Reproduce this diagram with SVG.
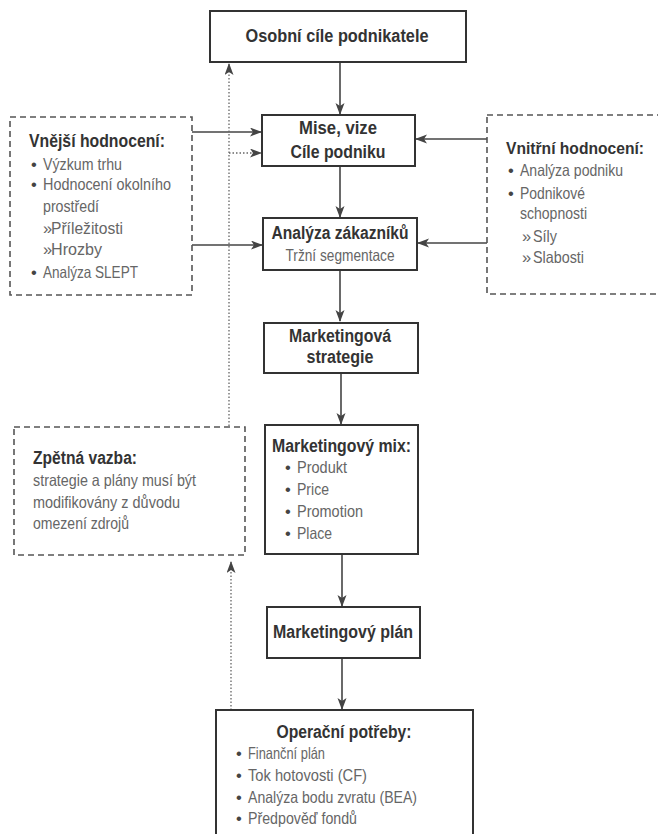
<svg xmlns="http://www.w3.org/2000/svg" width="658" height="834" viewBox="0 0 658 834">
<style>
.b{font-family:"Liberation Sans",Arial,sans-serif;font-weight:bold;font-size:18px;fill:#333}
.r{font-family:"Liberation Sans",Arial,sans-serif;font-size:16.5px;fill:#666}
.u{font-family:"Liberation Sans",Arial,sans-serif;font-size:16.5px;fill:#444}
.c{text-anchor:middle}
.box{fill:#fff;stroke:#333;stroke-width:2}
.dbox{fill:#fff;stroke:#555;stroke-width:1.6;stroke-dasharray:6 4}
.ln{fill:none;stroke:#444;stroke-width:1.6}
.dot{fill:none;stroke:#666;stroke-width:1.3;stroke-dasharray:1.5 2}
</style>
<defs>
<marker id="ah" markerWidth="12" markerHeight="10" refX="11" refY="4.5" orient="auto" markerUnits="userSpaceOnUse">
<path d="M0,0 L12,4.5 L0,9 L3,4.5 Z" fill="#444"/>
</marker>
</defs>
<g id="connectors">
<line class="ln" x1="340" y1="62" x2="340" y2="114" marker-end="url(#ah)"/>
<line class="ln" x1="340" y1="166" x2="340" y2="217" marker-end="url(#ah)"/>
<line class="ln" x1="340" y1="270" x2="340" y2="321" marker-end="url(#ah)"/>
<line class="ln" x1="341" y1="373" x2="341" y2="424" marker-end="url(#ah)"/>
<line class="ln" x1="342" y1="554" x2="342" y2="606" marker-end="url(#ah)"/>
<line class="ln" x1="342" y1="658" x2="342" y2="709" marker-end="url(#ah)"/>
<line class="ln" x1="192" y1="132" x2="261" y2="132" marker-end="url(#ah)"/>
<line class="ln" x1="192" y1="245" x2="262" y2="245" marker-end="url(#ah)"/>
<line class="ln" x1="487" y1="139" x2="416" y2="139" marker-end="url(#ah)"/>
<line class="ln" x1="487" y1="243" x2="418" y2="243" marker-end="url(#ah)"/>
<line class="dot" x1="229" y1="426" x2="229" y2="64" marker-end="url(#ah)"/>
<line class="dot" x1="229" y1="153" x2="261" y2="153" marker-end="url(#ah)"/>
<line class="dot" x1="231" y1="710" x2="231" y2="562" marker-end="url(#ah)"/>
</g>
<g id="osobni">
<rect class="box" x="210" y="11" width="256" height="51"/>
<text class="b c" x="337" y="42" textLength="183" lengthAdjust="spacingAndGlyphs">Osobní cíle podnikatele</text>
</g>
<g id="mise">
<rect class="box" x="262" y="115" width="153" height="51"/>
<text class="b c" x="338" y="134" textLength="78" lengthAdjust="spacingAndGlyphs">Mise, vize</text>
<text class="b c" x="338" y="158" textLength="95" lengthAdjust="spacingAndGlyphs">Cíle podniku</text>
</g>
<g id="analyza">
<rect class="box" x="263" y="218" width="154" height="52"/>
<text class="b c" x="340" y="239" textLength="137" lengthAdjust="spacingAndGlyphs">Analýza zákazníků</text>
<text class="r c" x="340" y="261" textLength="109" lengthAdjust="spacingAndGlyphs">Tržní segmentace</text>
</g>
<g id="strategie">
<rect class="box" x="264" y="323" width="154" height="50"/>
<text class="b c" x="340" y="342" textLength="102" lengthAdjust="spacingAndGlyphs">Marketingová</text>
<text class="b c" x="340" y="363" textLength="67" lengthAdjust="spacingAndGlyphs">strategie</text>
</g>
<g id="mix">
<rect class="box" x="265" y="425" width="153" height="129"/>
<text class="b" x="272" y="452" textLength="139" lengthAdjust="spacingAndGlyphs">Marketingový mix:</text>
<text class="u" x="285" y="473">•</text><text class="r" x="297" y="473" textLength="50" lengthAdjust="spacingAndGlyphs">Produkt</text>
<text class="u" x="285" y="495">•</text><text class="r" x="297" y="495" textLength="32" lengthAdjust="spacingAndGlyphs">Price</text>
<text class="u" x="285" y="517">•</text><text class="r" x="297" y="517" textLength="66" lengthAdjust="spacingAndGlyphs">Promotion</text>
<text class="u" x="285" y="539">•</text><text class="r" x="297" y="539" textLength="35" lengthAdjust="spacingAndGlyphs">Place</text>
</g>
<g id="plan">
<rect class="box" x="267" y="607" width="153" height="51"/>
<text class="b c" x="343" y="638" textLength="140" lengthAdjust="spacingAndGlyphs">Marketingový plán</text>
</g>
<g id="operacni">
<rect class="box" x="216" y="710" width="257" height="140"/>
<text class="b c" x="344" y="738" textLength="135" lengthAdjust="spacingAndGlyphs">Operační potřeby:</text>
<text class="u" x="236" y="759">•</text><text class="r" x="248" y="759" textLength="77" lengthAdjust="spacingAndGlyphs">Finanční plán</text>
<text class="u" x="236" y="781">•</text><text class="r" x="248" y="781" textLength="119" lengthAdjust="spacingAndGlyphs">Tok hotovosti (CF)</text>
<text class="u" x="236" y="803">•</text><text class="r" x="248" y="803" textLength="169" lengthAdjust="spacingAndGlyphs">Analýza bodu zvratu (BEA)</text>
<text class="u" x="236" y="824">•</text><text class="r" x="248" y="824" textLength="109" lengthAdjust="spacingAndGlyphs">Předpověď fondů</text>
</g>
<g id="vnejsi">
<rect class="dbox" x="10" y="117" width="182" height="178"/>
<text class="b" x="29" y="147" textLength="136" lengthAdjust="spacingAndGlyphs">Vnější hodnocení:</text>
<text class="u" x="31" y="170">•</text><text class="r" x="43" y="170" textLength="79" lengthAdjust="spacingAndGlyphs">Výzkum trhu</text>
<text class="u" x="31" y="190">•</text><text class="r" x="43" y="190" textLength="128" lengthAdjust="spacingAndGlyphs">Hodnocení okolního</text>
<text class="r" x="43" y="212" textLength="56" lengthAdjust="spacingAndGlyphs">prostředí</text>
<text class="r" x="43" y="234">»</text><text class="r" x="51" y="234" textLength="72" lengthAdjust="spacingAndGlyphs">Příležitosti</text>
<text class="r" x="43" y="255">»</text><text class="r" x="51" y="255" textLength="51" lengthAdjust="spacingAndGlyphs">Hrozby</text>
<text class="u" x="31" y="278">•</text><text class="r" x="43" y="278" textLength="95" lengthAdjust="spacingAndGlyphs">Analýza SLEPT</text>
</g>
<g id="vnitrni">
<rect class="dbox" x="487" y="115" width="190" height="179"/>
<text class="b" x="506" y="154" font-size="16.5" textLength="138" lengthAdjust="spacingAndGlyphs" style="font-size:16.5px">Vnitřní hodnocení:</text>
<text class="u" x="508" y="176">•</text><text class="r" x="520" y="176" textLength="103" lengthAdjust="spacingAndGlyphs">Analýza podniku</text>
<text class="u" x="508" y="199">•</text><text class="r" x="520" y="199" textLength="65" lengthAdjust="spacingAndGlyphs">Podnikové</text>
<text class="r" x="520" y="219" textLength="67" lengthAdjust="spacingAndGlyphs">schopnosti</text>
<text class="r" x="522" y="242">»</text><text class="r" x="533" y="242" textLength="24" lengthAdjust="spacingAndGlyphs">Síly</text>
<text class="r" x="522" y="263">»</text><text class="r" x="533" y="263" textLength="51" lengthAdjust="spacingAndGlyphs">Slabosti</text>
</g>
<g id="zpetna">
<rect class="dbox" x="14" y="427" width="231" height="128"/>
<text class="b" x="33" y="464" textLength="104" lengthAdjust="spacingAndGlyphs">Zpětná vazba:</text>
<text class="r" x="33" y="486" textLength="163" lengthAdjust="spacingAndGlyphs">strategie a plány musí být</text>
<text class="r" x="33" y="508" textLength="147" lengthAdjust="spacingAndGlyphs">modifikovány z důvodu</text>
<text class="r" x="33" y="529" textLength="96" lengthAdjust="spacingAndGlyphs">omezení zdrojů</text>
</g>
</svg>
